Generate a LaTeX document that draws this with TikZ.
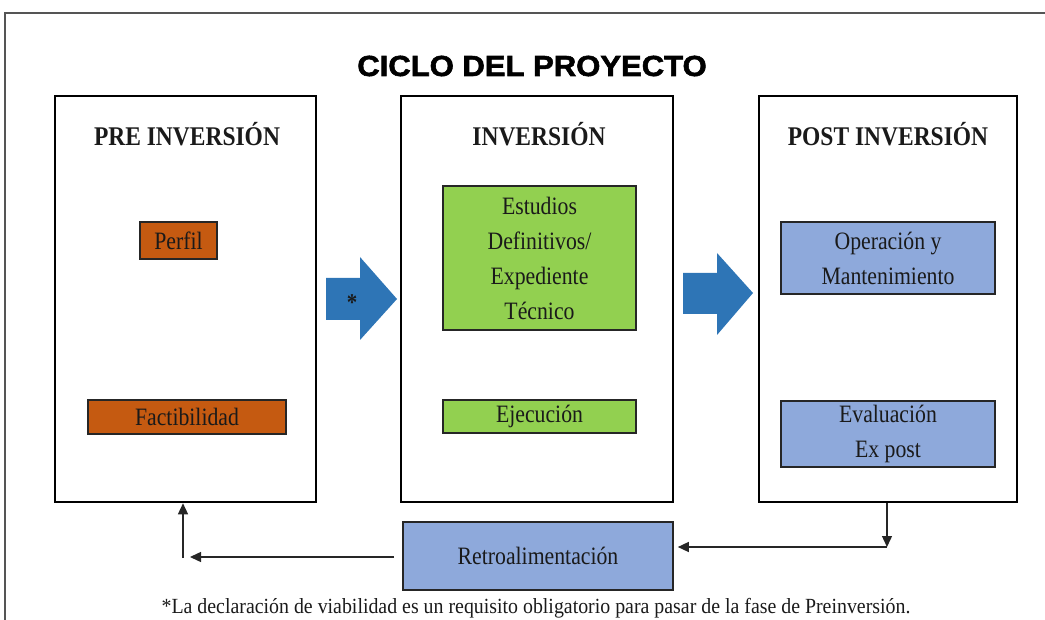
\documentclass[tikz,border=0pt]{standalone}
\usepackage{fontspec}
\setmainfont{Liberation Serif}[FakeStretch=0.87]
\newfontfamily\titlefont{Liberation Sans}[UprightFont={* Bold},FakeStretch=1.07,FakeBold=2]
\newfontfamily\notefont{Liberation Serif}[FakeStretch=0.92]
\usetikzlibrary{arrows.meta}
\definecolor{frame}{HTML}{555555}
\definecolor{orangebox}{HTML}{C55A11}
\definecolor{greenbox}{HTML}{92D050}
\definecolor{bluebox}{HTML}{8EA9DB}
\definecolor{arrowblue}{HTML}{2E75B6}
\definecolor{txt}{HTML}{1A1A1A}
\tikzset{
  phase/.style={draw=black, line width=2.6pt, rectangle, inner sep=0pt},
  item/.style={draw=black!85, line width=1.6pt, rectangle, inner sep=0pt, align=center,
    text=txt, font=\fontsize{25}{35}\selectfont},
  header/.style={font=\fontsize{27}{30}\selectfont\bfseries, text=txt},
  conn/.style={line width=1.4pt, draw=black!85, -{Triangle[length=11pt,width=10pt]}},
  blockarrow/.style={fill=arrowblue, draw=none}
}
\begin{document}
\begin{tikzpicture}[x=1pt,y=-1pt]
\useasboundingbox (0,0) rectangle (1045,620);
% outer frame
\draw[frame, line width=2pt] (5,620) -- (5,13) -- (1045,13);
% title
\node[font=\titlefont\fontsize{29}{32}\selectfont] (title) at (532,66) {CICLO DEL PROYECTO};
% phase boxes
\node[phase, minimum width=261pt, minimum height=406pt] (pre) at (185.5,299) {};
\node[phase, minimum width=272pt, minimum height=406pt] (inv) at (537,299) {};
\node[phase, minimum width=258pt, minimum height=406pt] (post) at (888,299) {};
% headers
\node[header] (hpre) at (187,134) {PRE INVERSIÓN};
\node[header] (hinv) at (539,134) {INVERSIÓN};
\node[header] (hpost) at (888,134) {POST INVERSIÓN};
% items
\node[item, fill=orangebox, minimum width=77pt, minimum height=37pt] (perfil) at (178.5,240.5) {Perfil};
\node[item, fill=orangebox, minimum width=198pt, minimum height=34pt] (fact) at (187,417) {Factibilidad};
\node[item, fill=greenbox, minimum width=193pt, minimum height=144pt] (estud) at (539.5,258) {Estudios\\Definitivos/\\Expediente\\Técnico};
\node[item, fill=greenbox, minimum width=193pt, minimum height=33pt] (ejec) at (539.5,416.5) {Ejecución};
\node[item, fill=bluebox, minimum width=214pt, minimum height=72pt] (oper) at (888,258) {Operación y\\Mantenimiento};
\node[item, fill=bluebox, minimum width=214pt, minimum height=66pt] (eval) at (888,434) {Evaluación\\Ex post};
\node[item, fill=bluebox, minimum width=270pt, minimum height=68pt] (retro) at (538,556) {Retroalimentación};
% block arrows
\fill[blockarrow] (326,278) -- (360,278) -- (360,257) -- (397,299) -- (360,340) -- (360,320) -- (326,320) -- cycle;
\node[font=\fontsize{24}{24}\selectfont\bfseries, text=txt] (star) at (352,303) {*};
\fill[blockarrow] (683,273) -- (717,273) -- (717,253) -- (753,293) -- (717,335) -- (717,314) -- (683,314) -- cycle;
% feedback connectors
\coordinate (c1) at (887,547);
\coordinate (c2) at (183,558);
\draw[conn] (post.south -| c1) -- (c1);
\draw[conn, shorten >=4pt] (c1) -- (retro.east |- c1);
\draw[conn, shorten <=8pt] (retro.west |- 0,557) -- (190,557);
\draw[conn] (c2) -- (pre.south -| c2);
% footnote
\node[font=\notefont\fontsize{21.6}{24}\selectfont, text=txt] (note) at (536,608) {*La declaración de viabilidad es un requisito obligatorio para pasar de la fase de Preinversión.};
\end{tikzpicture}
\end{document}
